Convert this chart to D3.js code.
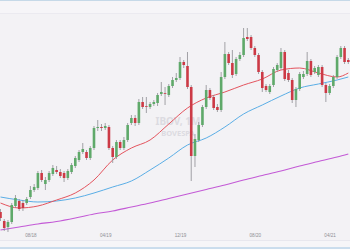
<!DOCTYPE html>
<html>
<head>
<meta charset="utf-8">
<script src="https://d3js.org/d3.v7.min.js"></script>
<style>
  html, body { margin: 0; padding: 0; background: #f3f2f5; }
  svg { display: block; font-family: "Noto Sans", "DejaVu Sans", sans-serif; }
</style>
</head>
<body>
<div id="chart"></div>
<script>
// candles (price in thousands of points)
const opens = [68.4,65.7,63.9,65.4,70.2,71.7,71.1,71.1,72.9,75.0,
  75.6,80.1,76.8,78.0,79.8,81.0,80.4,80.1,78.6,80.4,
  82.2,84.0,86.4,86.4,84.6,87.6,93.6,93.9,93.6,93.9,
  87.6,84.9,89.4,87.6,90.0,95.1,96.6,95.1,101.4,100.2,
  99.9,100.8,101.1,103.8,104.1,103.5,106.2,108.0,108.6,113.4,
  112.2,105.9,85.2,90.0,94.5,99.9,105.0,102.9,99.9,99.0,
  108.9,115.8,113.1,109.8,114.3,115.5,120.9,120.9,117.6,115.5,
  110.4,106.2,104.4,106.5,111.0,111.6,116.4,110.1,108.0,102.0,
  105.3,108.9,109.8,113.7,110.4,109.5,111.9,106.5,104.1,106.2,
  108.9,114.9,117.6,114.0];
const closes = [66.6,63.6,65.4,70.5,72.6,69.3,69.6,72.3,75.0,75.9,
  80.1,78.0,78.0,80.1,81.6,80.4,79.2,78.6,80.7,82.5,
  84.6,86.4,87.3,84.6,87.6,93.6,93.9,93.6,94.2,87.6,
  84.9,89.4,87.6,90.0,94.5,96.6,95.1,101.4,99.9,100.0,
  100.8,101.4,103.5,104.4,104.0,106.2,108.0,108.6,113.4,112.5,
  105.9,85.2,90.3,94.5,99.9,105.0,102.6,99.6,99.0,108.9,
  115.8,113.1,109.5,114.3,115.5,120.6,120.3,117.6,115.5,110.4,
  105.6,105.0,106.2,111.3,112.5,116.4,108.3,108.0,102.0,105.3,
  109.8,109.8,113.7,109.5,111.6,111.9,106.5,104.1,106.2,108.9,
  114.9,117.6,113.4,113.4];
const highs = [69.3,66.3,66.0,71.1,73.5,72.3,72.0,72.9,76.2,76.8,
  80.7,81.0,78.9,80.7,82.5,82.2,81.3,80.7,81.3,83.1,
  85.2,87.0,89.1,87.0,88.2,94.2,96.0,94.8,95.1,94.5,
  88.2,90.0,90.0,90.9,95.1,97.5,97.5,102.3,102.9,102.9,
  101.4,102.0,104.1,107.4,105.9,106.8,108.9,110.1,114.9,114.0,
  116.4,106.5,91.8,95.4,100.5,106.5,105.6,103.5,100.8,110.4,
  119.4,116.4,117.0,114.9,116.4,123.6,123.6,121.5,118.2,116.1,
  111.0,106.8,106.8,111.9,113.1,117.6,117.0,111.0,108.6,105.9,
  110.4,110.7,116.4,114.3,112.2,112.5,112.5,107.1,106.8,109.5,
  115.5,118.2,118.2,114.6];
const lows = [65.7,62.7,62.4,64.8,69.6,68.7,68.7,70.5,72.3,74.4,
  75.0,77.4,75.0,77.4,79.2,79.8,78.6,77.4,78.0,79.8,
  81.6,83.4,85.8,84.0,84.0,87.0,92.7,92.7,93.0,87.0,
  83.1,84.3,87.0,87.0,89.4,94.5,94.2,94.5,99.3,98.1,
  99.3,100.2,100.2,103.2,100.5,102.9,105.6,107.4,108.0,111.6,
  105.3,77.7,81.9,89.4,93.9,99.3,102.0,99.0,98.4,98.4,
  108.3,112.5,108.6,109.2,113.7,114.9,119.7,117.0,114.9,109.8,
  104.4,104.4,103.8,105.9,110.4,111.0,107.7,107.4,101.1,99.9,
  104.7,108.3,109.2,108.9,109.8,108.9,105.9,101.4,103.5,105.6,
  108.3,114.3,112.8,112.8];

// moving averages, read at every 5th candle
const maIndex = [0,5,10,15,20,25,30,35,40,45,50,55,60,65,70,75,80,85,90,93];
const maFast = [71.1,69.6,70.2,72.0,74.1,78.0,84.0,87.6,90.0,94.8,99.6,102.6,104.4,106.5,108.3,111.0,111.6,110.1,108.9,110.1];
const maMid = [72.9,72.0,71.4,71.7,72.6,74.1,75.9,77.7,81.0,84.6,88.5,90.6,93.9,97.8,100.5,103.2,105.6,106.8,108.0,108.9];
const maSlow = [63.0,63.9,64.8,65.55,66.6,67.8,68.7,69.9,71.1,72.45,73.8,75.15,76.5,78.0,79.35,80.7,82.2,83.55,84.9,85.8];

// x axis
const tickIndex = [8,28,48,68,88];
const tickLabels = ["08/18","04/19","12/19","08/20","04/21"];

const width = 350, height = 250;
const plotTop = 14, plotBottom = 240;

const svg = d3.select("#chart").append("svg")
    .attr("width", width)
    .attr("height", height);

svg.append("rect").attr("width", width).attr("height", height).attr("fill", "#f3f2f5");

// toolbar strip + frame lines
svg.append("rect").attr("x", 0).attr("y", 0).attr("width", width).attr("height", plotTop).attr("fill", "#f6f5f8");
svg.append("line").attr("x1", 0).attr("x2", width).attr("y1", 0.5).attr("y2", 0.5).attr("stroke", "#c6d9e8");
svg.append("line").attr("x1", 0).attr("x2", width).attr("y1", plotTop - 0.5).attr("y2", plotTop - 0.5).attr("stroke", "#ebeaf0");
svg.append("rect").attr("x", 0).attr("y", plotBottom).attr("width", width).attr("height", 8).attr("fill", "#f6f5f8");
svg.append("line").attr("x1", 0).attr("x2", width).attr("y1", plotBottom + 0.5).attr("y2", plotBottom + 0.5).attr("stroke", "#e8e7ee");
svg.append("line").attr("x1", 0).attr("x2", width).attr("y1", 248).attr("y2", 248).attr("stroke", "#bcd5ea").attr("stroke-width", 1.5);
svg.append("rect").attr("x", 0).attr("y", 249).attr("width", width).attr("height", 1).attr("fill", "#fdfdfe");

const x = d3.scaleLinear().domain([0, opens.length - 1]).range([0.5, 348.3]);
const y = d3.scaleLinear().domain([60, 127.8]).range([plotBottom, plotTop]);

svg.append("clipPath").attr("id", "plot")
  .append("rect").attr("x", 0).attr("y", plotTop).attr("width", width).attr("height", plotBottom - plotTop);

const plot = svg.append("g").attr("clip-path", "url(#plot)");

// watermark
plot.append("text")
    .attr("x", 178).attr("y", 125)
    .attr("text-anchor", "middle")
    .attr("font-size", 10).attr("font-weight", "bold")
    .attr("fill", "#dcdbe1")
    .text("IBOV, 1M");
plot.append("text")
    .attr("x", 178).attr("y", 136)
    .attr("text-anchor", "middle")
    .attr("font-size", 7.5).attr("font-weight", "bold")
    .attr("fill", "#dcdbe1")
    .text("BOVESPA");

// moving averages
function maLine(values, color, w) {
    const line = d3.line()
        .x((d, i) => x(maIndex[i]))
        .y(d => y(d))
        .curve(d3.curveMonotoneX);
    plot.append("path")
        .datum(values)
        .attr("d", line)
        .attr("fill", "none")
        .attr("stroke", color)
        .attr("stroke-width", w);
}
maLine(maSlow, "#c35ad6", 1.1);
maLine(maMid, "#5aaee6", 1);
maLine(maFast, "#e4545e", 1);

// candles
const candles = opens.map((o, i) => ({i: i, o: o, c: closes[i], h: highs[i], l: lows[i]}));
const up = "#5fa96a", down = "#cc3a46";

const g = plot.selectAll("g.candle").data(candles).enter().append("g").attr("class", "candle");

g.append("line")
    .attr("x1", d => x(d.i)).attr("x2", d => x(d.i))
    .attr("y1", d => y(d.h)).attr("y2", d => y(d.l))
    .attr("stroke", "#8d8d92").attr("stroke-width", 0.8);

g.append("rect")
    .attr("x", d => x(d.i) - 1.3)
    .attr("width", 2.6)
    .attr("y", d => y(Math.max(d.o, d.c)))
    .attr("height", d => Math.max(0.8, Math.abs(y(d.o) - y(d.c))))
    .attr("fill", d => d.c >= d.o ? up : down);

// axis labels
const axis = d3.axisBottom(x)
    .tickValues(tickIndex)
    .tickFormat((d, i) => tickLabels[i])
    .tickSize(0)
    .tickPadding(0);

svg.append("g")
    .attr("transform", "translate(0,233.5)")
    .call(axis)
    .call(a => a.select(".domain").remove())
    .selectAll("text")
    .attr("font-size", 4.6)
    .attr("fill", "#8e8e94");
</script>
</body>
</html>
